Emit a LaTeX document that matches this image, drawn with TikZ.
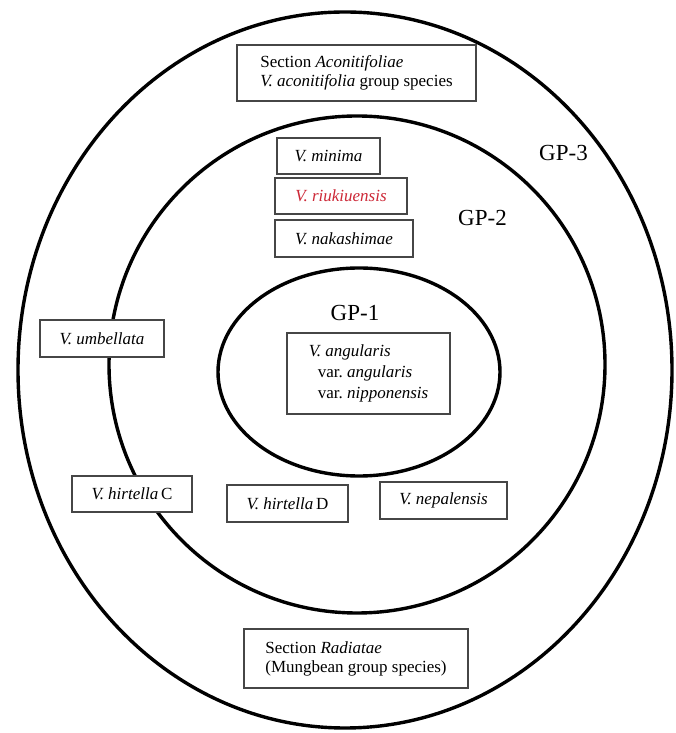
\documentclass[tikz,border=0pt]{standalone}
\usepackage{fontspec}
\setmainfont{Liberation Serif}
\frenchspacing
\definecolor{redtxt}{RGB}{205,40,55}
\definecolor{boxline}{RGB}{70,70,70}
\begin{document}
\begin{tikzpicture}[x=1pt,y=1pt,
  ring/.style={line width=3.4pt,black},
  sbox/.style={draw=boxline,fill=white,line width=1.2pt,inner sep=0pt,align=center,
     font=\fontsize{17}{19}\selectfont},
  gplabel/.style={inner sep=0pt,font=\fontsize{23}{25}\selectfont}]
\useasboundingbox (0,0) rectangle (675,733);
\fill[white] (0,0) rectangle (675,733);
% rings
\draw[ring] (345,363) ellipse [x radius=327,y radius=358];
\draw[ring] (357,368.5) ellipse [x radius=248,y radius=248.5];
\draw[ring] (359,361) ellipse [x radius=141,y radius=104];
% labels
\node[gplabel] (gp1) at (355,420) {GP-1};
\node[gplabel] (gp2) at (482.5,515) {GP-2};
\node[gplabel] (gp3) at (563.5,580) {GP-3};
% boxes
\node[sbox,minimum width=239pt,minimum height=56pt,align=left] (aco) at (356.5,660)
  {Section \textit{Aconitifoliae}\\\textit{V. aconitifolia} group species};
\node[sbox,minimum width=103pt,minimum height=36pt] (minima) at (328.5,577) {\textit{V. minima}};
\node[sbox,minimum width=132pt,minimum height=36pt,text=redtxt] (riuk) at (341,537) {\textit{V. riukiuensis}};
\node[sbox,minimum width=138pt,minimum height=37pt] (naka) at (344,494.5) {\textit{V. nakashimae}};
\node[sbox,minimum width=163pt,minimum height=81pt,align=left,
  font=\fontsize{17}{21}\selectfont] (ang) at (368.5,359.5)
  {\textit{V. angularis}\\\hspace*{9pt}var. \textit{angularis}\\\hspace*{9pt}var. \textit{nipponensis}};
\node[sbox,minimum width=124pt,minimum height=37pt] (umb) at (102,394.5) {\textit{V. umbellata}};
\node[sbox,minimum width=120pt,minimum height=36pt] (hirc) at (132,239) {\textit{V. hirtella}\,C};
\node[sbox,minimum width=121pt,minimum height=37pt] (hird) at (287.5,229.5) {\textit{V. hirtella}\,D};
\node[sbox,minimum width=127pt,minimum height=37pt] (nep) at (443.5,232.5) {\textit{V. nepalensis}};
\node[sbox,minimum width=224pt,minimum height=59pt,align=left] (rad) at (356,74.5)
  {Section \textit{Radiatae}\\(Mungbean group species)};
\end{tikzpicture}
\end{document}
